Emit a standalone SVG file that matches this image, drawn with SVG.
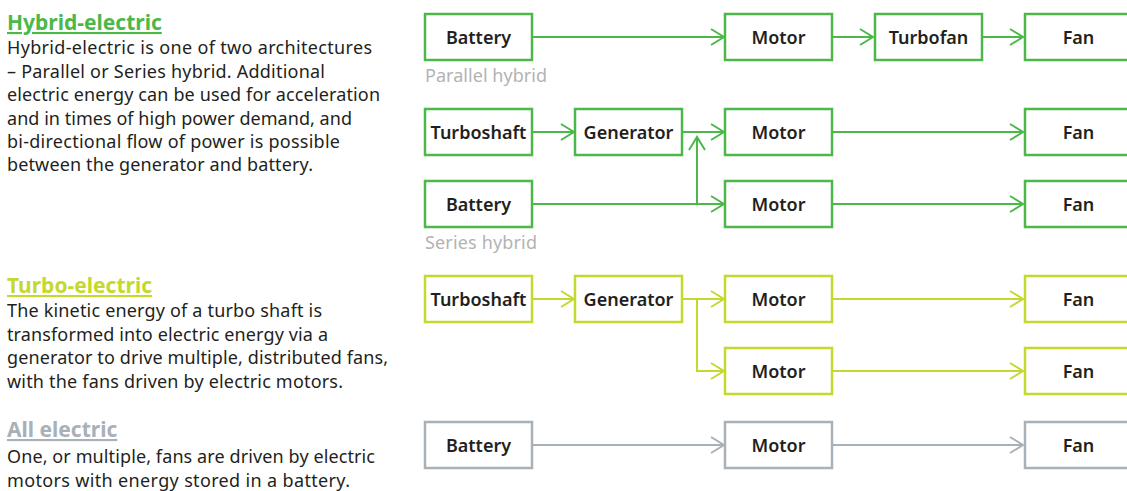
<svg xmlns="http://www.w3.org/2000/svg" width="1127" height="491" viewBox="0 0 1127 491">
<style>
.bg{fill:#fff}
.box{fill:#fff;stroke-width:2.5}
.g .box{stroke:#4cb84a}
.l .box{stroke:#c4d82e}
.s .box{stroke:#a8b0b8}
.nt{font-family:"Noto Sans","Open Sans",sans-serif;font-size:18px;font-weight:600;fill:#231f20;text-anchor:middle}
.ln{fill:none;stroke-width:2}
.cg{stroke:#4cb84a}
.cl{stroke:#c4d82e}
.cs{stroke:#a8b0b8}
.title{font-family:"Noto Sans","Open Sans",sans-serif;font-size:21px;font-weight:700;text-decoration:underline}
.body{font-family:"Noto Sans","Open Sans",sans-serif;font-size:18px;fill:#231f20}
.cap{font-family:"Noto Sans","Open Sans",sans-serif;font-size:18px;fill:#b3b3b3}
</style>
<defs>
<marker id="ag" markerUnits="userSpaceOnUse" markerWidth="16" markerHeight="20" refX="14" refY="10" orient="auto" overflow="visible"><path d="M1 2 L14 10 L1 18" fill="none" stroke="#4cb84a" stroke-width="2"/></marker>
<marker id="al" markerUnits="userSpaceOnUse" markerWidth="16" markerHeight="20" refX="14" refY="10" orient="auto" overflow="visible"><path d="M1 2 L14 10 L1 18" fill="none" stroke="#c4d82e" stroke-width="2"/></marker>
<marker id="as" markerUnits="userSpaceOnUse" markerWidth="16" markerHeight="20" refX="14" refY="10" orient="auto" overflow="visible"><path d="M1 2 L14 10 L1 18" fill="none" stroke="#a8b0b8" stroke-width="2"/></marker>
</defs>
<rect class="bg" x="0" y="0" width="1127" height="491"/>

<g id="text-left">
<text class="title" x="7" y="30" fill="#4cb84a">Hybrid-electric</text>
<text class="body" x="7" y="54" textLength="365" lengthAdjust="spacing">Hybrid-electric is one of two architectures</text>
<text class="body" x="7" y="78" textLength="318" lengthAdjust="spacing">– Parallel or Series hybrid. Additional</text>
<text class="body" x="7" y="101" textLength="373" lengthAdjust="spacing">electric energy can be used for acceleration</text>
<text class="body" x="7" y="125" textLength="345" lengthAdjust="spacing">and in times of high power demand, and</text>
<text class="body" x="7" y="148" textLength="333" lengthAdjust="spacing">bi-directional flow of power is possible</text>
<text class="body" x="7" y="171" textLength="306" lengthAdjust="spacing">between the generator and battery.</text>
<text class="title" x="7" y="293" fill="#c4d82e">Turbo-electric</text>
<text class="body" x="7" y="317" textLength="315" lengthAdjust="spacing">The kinetic energy of a turbo shaft is</text>
<text class="body" x="7" y="341" textLength="321" lengthAdjust="spacing">transformed into electric energy via a</text>
<text class="body" x="7" y="364" textLength="381" lengthAdjust="spacing">generator to drive multiple, distributed fans,</text>
<text class="body" x="7" y="388" textLength="336" lengthAdjust="spacing">with the fans driven by electric motors.</text>
<text class="title" x="7" y="437" fill="#a8b0b8">All electric</text>
<text class="body" x="7" y="463" textLength="368" lengthAdjust="spacing">One, or multiple, fans are driven by electric</text>
<text class="body" x="7" y="487" textLength="343" lengthAdjust="spacing">motors with energy stored in a battery.</text>
</g>

<text class="cap" x="425" y="82" textLength="122" lengthAdjust="spacing">Parallel hybrid</text>
<text class="cap" x="425" y="249" textLength="112" lengthAdjust="spacing">Series hybrid</text>

<g id="connectors">
<line class="ln cg" x1="532" y1="37" x2="724" y2="37" marker-end="url(#ag)"/>
<line class="ln cg" x1="832" y1="37" x2="873" y2="37" marker-end="url(#ag)"/>
<line class="ln cg" x1="982" y1="37" x2="1023" y2="37" marker-end="url(#ag)"/>
<line class="ln cg" x1="532" y1="132" x2="574" y2="132" marker-end="url(#ag)"/>
<line class="ln cg" x1="682" y1="132" x2="724" y2="132" marker-end="url(#ag)"/>
<line class="ln cg" x1="832" y1="132" x2="1023" y2="132" marker-end="url(#ag)"/>
<line class="ln cg" x1="532" y1="204" x2="724" y2="204" marker-end="url(#ag)"/>
<line class="ln cg" x1="697" y1="205" x2="697" y2="137" marker-end="url(#ag)"/>
<line class="ln cg" x1="832" y1="204" x2="1023" y2="204" marker-end="url(#ag)"/>
<line class="ln cl" x1="532" y1="299" x2="574" y2="299" marker-end="url(#al)"/>
<line class="ln cl" x1="682" y1="299" x2="724" y2="299" marker-end="url(#al)"/>
<path class="ln cl" d="M697 299 V371 H724" marker-end="url(#al)"/>
<line class="ln cl" x1="832" y1="299" x2="1023" y2="299" marker-end="url(#al)"/>
<line class="ln cl" x1="832" y1="371" x2="1023" y2="371" marker-end="url(#al)"/>
<line class="ln cs" x1="532" y1="445" x2="724" y2="445" marker-end="url(#as)"/>
<line class="ln cs" x1="832" y1="445" x2="1023" y2="445" marker-end="url(#as)"/>
</g>

<g class="g">
<g id="p-battery"><rect class="box" x="425" y="14" width="107" height="46"/><text class="nt" x="478.5" y="43.5">Battery</text></g>
<g id="p-motor"><rect class="box" x="725" y="14" width="107" height="46"/><text class="nt" x="778.5" y="43.5">Motor</text></g>
<g id="p-turbofan"><rect class="box" x="875" y="14" width="107" height="46"/><text class="nt" x="928.5" y="43.5">Turbofan</text></g>
<g id="p-fan"><rect class="box" x="1025" y="14" width="107" height="46"/><text class="nt" x="1078.5" y="43.5">Fan</text></g>
<g id="s-turboshaft"><rect class="box" x="425" y="109" width="107" height="46"/><text class="nt" x="478.5" y="138.5">Turboshaft</text></g>
<g id="s-generator"><rect class="box" x="575" y="109" width="107" height="46"/><text class="nt" x="628.5" y="138.5">Generator</text></g>
<g id="s-motor1"><rect class="box" x="725" y="109" width="107" height="46"/><text class="nt" x="778.5" y="138.5">Motor</text></g>
<g id="s-fan1"><rect class="box" x="1025" y="109" width="107" height="46"/><text class="nt" x="1078.5" y="138.5">Fan</text></g>
<g id="s-battery"><rect class="box" x="425" y="181" width="107" height="46"/><text class="nt" x="478.5" y="210.5">Battery</text></g>
<g id="s-motor2"><rect class="box" x="725" y="181" width="107" height="46"/><text class="nt" x="778.5" y="210.5">Motor</text></g>
<g id="s-fan2"><rect class="box" x="1025" y="181" width="107" height="46"/><text class="nt" x="1078.5" y="210.5">Fan</text></g>
</g>

<g class="l">
<g id="t-turboshaft"><rect class="box" x="425" y="276" width="107" height="46"/><text class="nt" x="478.5" y="305.5">Turboshaft</text></g>
<g id="t-generator"><rect class="box" x="575" y="276" width="107" height="46"/><text class="nt" x="628.5" y="305.5">Generator</text></g>
<g id="t-motor1"><rect class="box" x="725" y="276" width="107" height="46"/><text class="nt" x="778.5" y="305.5">Motor</text></g>
<g id="t-fan1"><rect class="box" x="1025" y="276" width="107" height="46"/><text class="nt" x="1078.5" y="305.5">Fan</text></g>
<g id="t-motor2"><rect class="box" x="725" y="348" width="107" height="46"/><text class="nt" x="778.5" y="377.5">Motor</text></g>
<g id="t-fan2"><rect class="box" x="1025" y="348" width="107" height="46"/><text class="nt" x="1078.5" y="377.5">Fan</text></g>
</g>

<g class="s">
<g id="a-battery"><rect class="box" x="425" y="422" width="107" height="46"/><text class="nt" x="478.5" y="451.5">Battery</text></g>
<g id="a-motor"><rect class="box" x="725" y="422" width="107" height="46"/><text class="nt" x="778.5" y="451.5">Motor</text></g>
<g id="a-fan"><rect class="box" x="1025" y="422" width="107" height="46"/><text class="nt" x="1078.5" y="451.5">Fan</text></g>
</g>
</svg>
